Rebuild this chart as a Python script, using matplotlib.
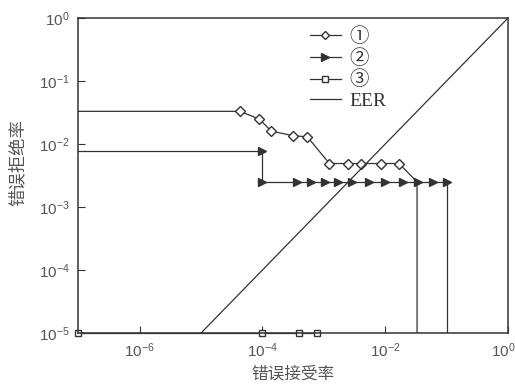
"""FAR / FRR curves on log-log axes with the EER diagonal."""

import matplotlib
matplotlib.use("Agg")
import matplotlib.pyplot as plt
import matplotlib.transforms as mtransforms
from matplotlib.lines import Line2D

INK = "#333333"
TICK = "#555555"

# series 1 (diamonds): entry level from the left edge, markers, end drop
s1_x = [4.3e-5, 8.8e-5, 1.4e-4, 3.2e-4, 5.4e-4, 1.23e-3, 2.5e-3, 4.1e-3, 8.6e-3, 1.68e-2]
s1_y = [3.3e-2, 2.5e-2, 1.6e-2, 1.35e-2, 1.3e-2, 4.9e-3, 4.9e-3, 4.9e-3, 4.9e-3, 4.9e-3]
s1_end_x = 3.3e-2
s1_end_y = 2.5e-3

# series 2 (triangles)
s2_x = [1.0e-4, 1.0e-4, 3.7e-4, 6.1e-4, 1.06e-3, 1.7e-3, 2.9e-3, 5.5e-3, 1.0e-2,
        1.97e-2, 3.45e-2, 5.9e-2, 0.102]
s2_y = [7.7e-3, 2.5e-3, 2.5e-3, 2.5e-3, 2.5e-3, 2.5e-3, 2.5e-3, 2.5e-3, 2.5e-3,
        2.5e-3, 2.5e-3, 2.5e-3, 2.5e-3]

# series 3 (squares), sitting on the floor of the plot
s3_x = [1.0e-7, 1.0e-4, 4.0e-4, 7.8e-4]
s3_y = [1.0e-5, 1.0e-5, 1.0e-5, 1.0e-5]

eer_x = [1.0e-5, 1.0]
eer_y = [1.0e-5, 1.0]

x_min, x_max = 1e-7, 1.0
y_min, y_max = 1e-5, 1.0
x_ticks = [1e-6, 1e-4, 1e-2, 1e0]
x_labels = [r"$\mathregular{10^{-6}}$", r"$\mathregular{10^{-4}}$",
            r"$\mathregular{10^{-2}}$", r"$\mathregular{10^{0}}$"]
y_ticks = [1e-5, 1e-4, 1e-3, 1e-2, 1e-1, 1e0]
y_labels = [r"$\mathregular{10^{-5}}$", r"$\mathregular{10^{-4}}$",
            r"$\mathregular{10^{-3}}$", r"$\mathregular{10^{-2}}$",
            r"$\mathregular{10^{-1}}$", r"$\mathregular{10^{0}}$"]
legend_labels = ["①", "②", "③", "EER"]

plt.rcParams.update({
    "font.family": ["Liberation Sans", "DejaVu Sans"],
    "mathtext.fontset": "custom",
    "mathtext.rm": "Liberation Sans",
})

fig = plt.figure(figsize=(5.15, 3.84), dpi=100)
ax = fig.add_axes([0.1520, 0.1328, 0.8344, 0.8203])
ax.set_xscale("log")
ax.set_yscale("log")
ax.set_xlim(x_min, x_max)
ax.set_ylim(y_min, y_max)

lw = 0.9
# series 1
ax.plot([x_min] + s1_x + [s1_end_x, s1_end_x], [s1_y[0]] + s1_y + [s1_end_y, y_min],
        color=INK, lw=lw)
ax.plot(s1_x, s1_y, ls="none", marker="D", ms=5.5, mfc="white", mec=INK, mew=1.0)
# series 2
ax.plot([x_min] + s2_x + [s2_x[-1]], [s2_y[0]] + s2_y + [y_min], color=INK, lw=lw)
ax.plot(s2_x, s2_y, ls="none", marker=">", ms=6, color=INK)
# series 3
ax.plot(s3_x, s3_y, color=INK, lw=lw, marker="s", ms=5, mfc="white", mec=INK,
        mew=1.0, clip_on=False)
# EER diagonal
ax.plot(eer_x, eer_y, color=INK, lw=lw)

ax.set_xticks(x_ticks, x_labels)
ax.set_yticks(y_ticks, y_labels)
ax.minorticks_off()
ax.tick_params(direction="in", length=5, width=0.8, color=INK,
               labelsize=11, labelcolor=TICK, pad=6)
for spine in ax.spines.values():
    spine.set_color(INK)
    spine.set_linewidth(1.1)

# keep the last x label inside the canvas
last = ax.get_xticklabels()[-1]
last.set_transform(last.get_transform()
                   + mtransforms.ScaledTranslation(-0.05, 0, fig.dpi_scale_trans))

cjk = ["Noto Sans CJK SC", "DejaVu Sans"]
ax.set_xlabel("错误接受率", family=cjk, fontsize=12, color=TICK, labelpad=4)
ax.set_ylabel("错误拒绝率", family=cjk, fontsize=12.5, color=TICK)
ax.yaxis.set_label_coords(-0.12, 0.54)

handles = [
    Line2D([], [], color=INK, lw=lw, marker="D", ms=4.5, mfc="white", mec=INK),
    Line2D([], [], color=INK, lw=lw, marker=">", ms=5.5),
    Line2D([], [], color=INK, lw=lw, marker="s", ms=4.5, mfc="white", mec=INK),
    Line2D([], [], color=INK, lw=lw),
]
ax.legend(handles, legend_labels, loc="upper left", bbox_to_anchor=(0.52, 0.995),
          borderaxespad=0, frameon=False, handlelength=1.6, handletextpad=0.47,
          labelspacing=0.15,
          prop={"family": ["Liberation Serif", "Noto Sans CJK SC"], "size": 14},
          labelcolor=INK)

fig.savefig("out.png", dpi=100)
